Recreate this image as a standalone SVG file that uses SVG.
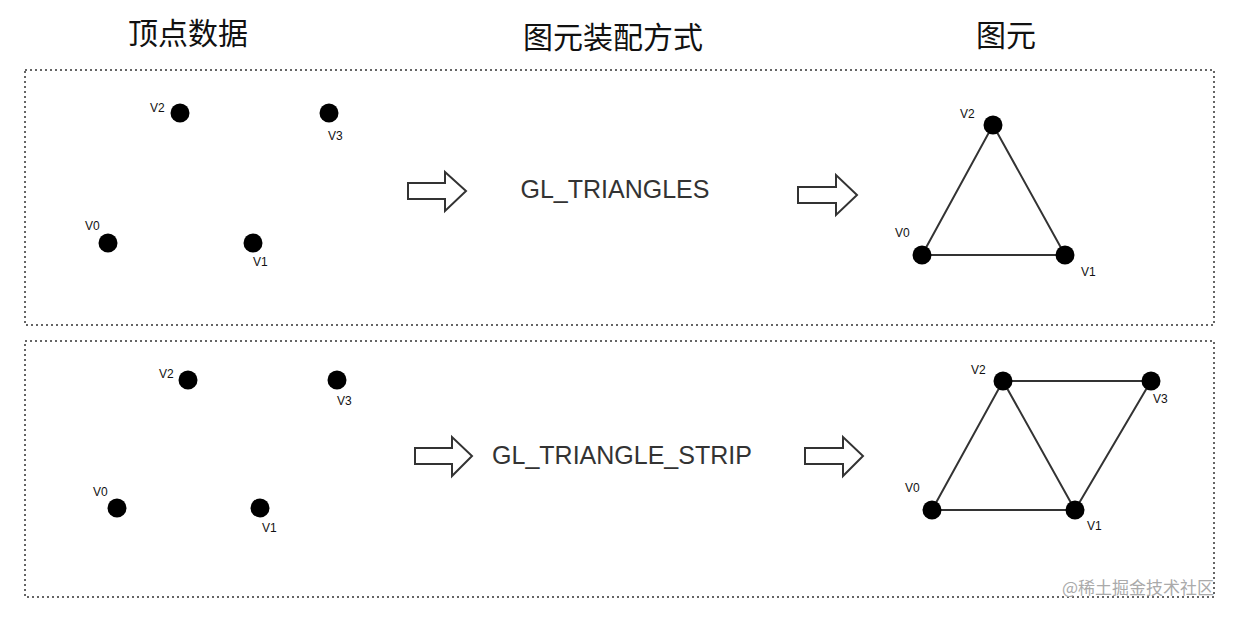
<svg xmlns="http://www.w3.org/2000/svg" width="1240" height="617" viewBox="0 0 1240 617">
<style>
.box{fill:none;stroke:#333;stroke-width:1.5;stroke-dasharray:2 3}
.dot{fill:#000}
.lbl{font-family:"Liberation Sans",Arial,sans-serif;font-size:12px;fill:#111}
.title{font-family:"Noto Sans CJK SC",sans-serif;font-size:30px;fill:#111}
.mode{font-family:"Liberation Sans",Arial,sans-serif;font-size:25px;fill:#333}
.arr{fill:#fff;stroke:#333;stroke-width:2}
.edge{stroke:#333;stroke-width:2;fill:none}
</style>
<rect width="1240" height="617" fill="#fff"/>
<g id="titles">
<text class="title" x="188" y="44" text-anchor="middle">顶点数据</text>
<text class="title" x="613" y="48" text-anchor="middle">图元装配方式</text>
<text class="title" x="1006" y="46" text-anchor="middle">图元</text>
</g>
<g id="frames">
<rect class="box" x="25" y="70" width="1189" height="255"/>
<rect class="box" x="25" y="341" width="1189" height="256"/>
</g>
<g id="top-vertices">
<circle class="dot" cx="180" cy="113" r="9.5"/><text class="lbl" x="150" y="112">V2</text>
<circle class="dot" cx="329" cy="113" r="9.5"/><text class="lbl" x="328" y="140">V3</text>
<circle class="dot" cx="108" cy="243" r="9.5"/><text class="lbl" x="85" y="230">V0</text>
<circle class="dot" cx="253" cy="243" r="9.5"/><text class="lbl" x="253" y="266">V1</text>
</g>
<g id="bottom-vertices">
<circle class="dot" cx="188" cy="380" r="9.5"/><text class="lbl" x="159" y="378">V2</text>
<circle class="dot" cx="337" cy="380" r="9.5"/><text class="lbl" x="337" y="405">V3</text>
<circle class="dot" cx="117" cy="508" r="9.5"/><text class="lbl" x="93" y="496">V0</text>
<circle class="dot" cx="260" cy="508" r="9.5"/><text class="lbl" x="262" y="532">V1</text>
</g>
<g id="modes">
<text class="mode" x="615" y="198" text-anchor="middle">GL_TRIANGLES</text>
<text class="mode" x="622" y="464" text-anchor="middle">GL_TRIANGLE_STRIP</text>
</g>
<g id="connectors">
<polygon class="arr" points="408,183 445,183 445,172 466,191 445,211 445,199 408,199"/>
<polygon class="arr" points="798,187 836,187 836,175 857,195 836,215 836,203 798,203"/>
<polygon class="arr" points="415,448 452,448 452,437 472,456 452,476 452,464 415,464"/>
<polygon class="arr" points="805,448 843,448 843,437 863,456 843,476 843,464 805,464"/>
</g>
<g id="triangles">
<polygon class="edge" points="922,255 993,125 1065,255"/>
<circle class="dot" cx="993" cy="125" r="9.5"/><text class="lbl" x="960" y="118">V2</text>
<circle class="dot" cx="922" cy="255" r="9.5"/><text class="lbl" x="895" y="237">V0</text>
<circle class="dot" cx="1065" cy="255" r="9.5"/><text class="lbl" x="1081" y="276">V1</text>
</g>
<g id="strip">
<polygon class="edge" points="932,510 1003,381 1075,510"/>
<polyline class="edge" points="1003,381 1151,381 1075,510"/>
<circle class="dot" cx="1003" cy="381" r="9.5"/><text class="lbl" x="971" y="374">V2</text>
<circle class="dot" cx="1151" cy="381" r="9.5"/><text class="lbl" x="1153" y="403">V3</text>
<circle class="dot" cx="932" cy="510" r="9.5"/><text class="lbl" x="905" y="492">V0</text>
<circle class="dot" cx="1075" cy="510" r="9.5"/><text class="lbl" x="1087" y="530">V1</text>
</g>
<text x="1062" y="594" font-family="Noto Sans CJK SC,sans-serif" font-size="17" fill="#aaa">@稀土掘金技术社区</text>
</svg>
